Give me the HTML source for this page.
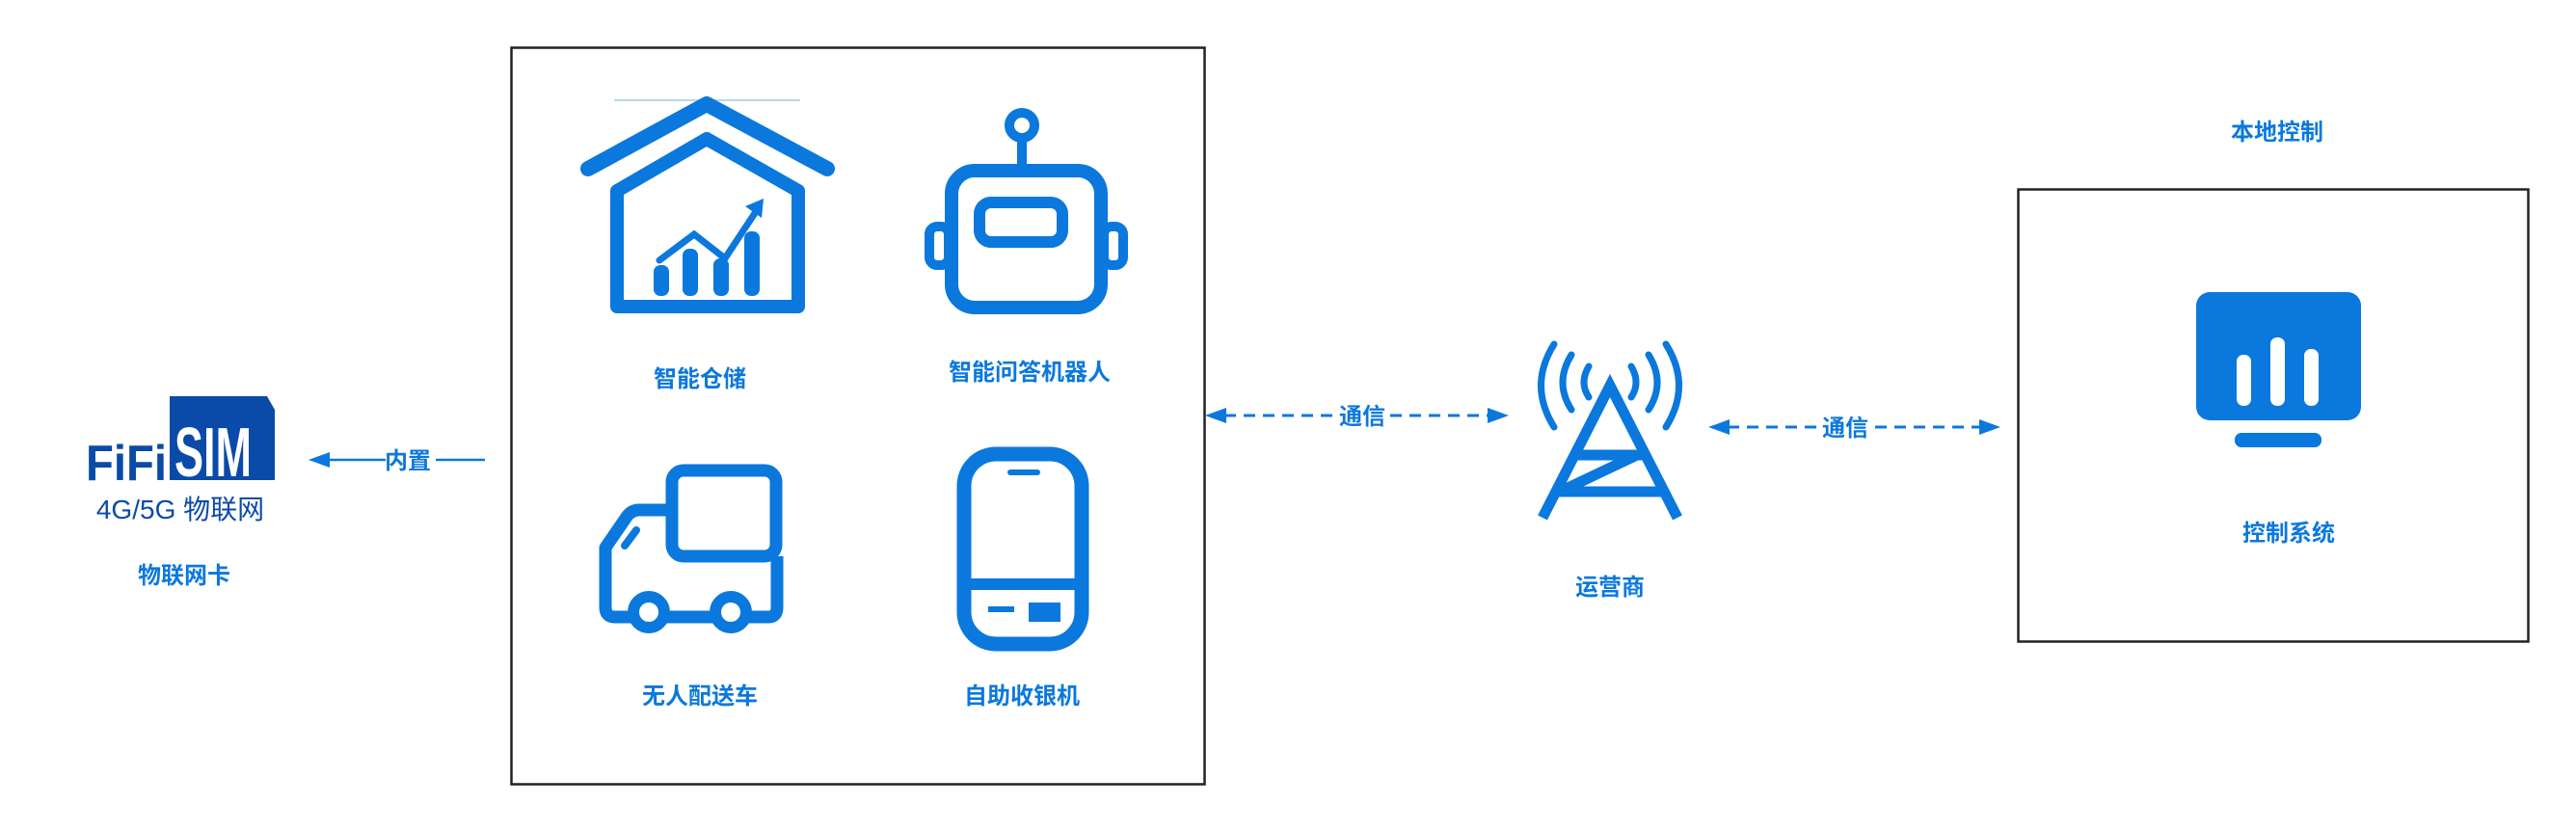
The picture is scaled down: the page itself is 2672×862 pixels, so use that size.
<!DOCTYPE html>
<html><head><meta charset="utf-8"><style>
html,body{margin:0;padding:0;background:#fff;}
svg{display:block;}
text{font-family:"Liberation Sans","Noto Sans CJK SC",sans-serif;font-weight:bold;fill:#0b78dd;}
</style></head><body>
<svg width="2672" height="862" viewBox="0 0 2672 862" xmlns="http://www.w3.org/2000/svg">
<defs>
<marker id="ah" markerWidth="10" markerHeight="10" refX="9" refY="5" orient="auto" markerUnits="userSpaceOnUse"><path d="M0,0 L10,5 L0,10 z" fill="#0b78dd"/></marker>
</defs>
<g stroke="#0b78dd" fill="none">
<!-- boxes -->
<rect x="530.5" y="49.5" width="719" height="764" stroke="#222" stroke-width="2.5"/>
<rect x="2093.5" y="196.5" width="529" height="469" stroke="#222" stroke-width="2.5"/>

<!-- house -->
<line x1="637" y1="104" x2="830" y2="104" stroke="#b8d8f0" stroke-width="2"/>
<polyline points="610,175 733,108 858,175" stroke-width="16" stroke-linecap="round" stroke-linejoin="round"/>
<path d="M640,318 L640,198 L733,144 L828,198 L828,318 Z" stroke-width="14" stroke-linejoin="round"/>
<polyline points="684,270 720,243 752,268 785,218" stroke-width="7" stroke-linecap="round"/>
</g>
<g fill="#0b78dd">
<path d="M792,206 L773,214 L790,226 Z"/>
<rect x="678" y="275" width="16" height="32" rx="7"/>
<rect x="708" y="258" width="16" height="49" rx="7"/>
<rect x="740" y="268" width="16" height="39" rx="7"/>
<rect x="772" y="240" width="16" height="67" rx="7"/>
</g>
<g stroke="#0b78dd" fill="none">
<!-- robot -->
<circle cx="1060" cy="130" r="13" stroke-width="10"/>
<line x1="1060" y1="143" x2="1060" y2="176" stroke-width="10"/>
<rect x="987" y="177" width="155" height="142" rx="24" stroke-width="14"/>
<rect x="1016" y="210" width="86" height="41" rx="12" stroke-width="12"/>
<rect x="964" y="235" width="20" height="40" rx="8" stroke-width="10"/>
<rect x="1145" y="235" width="20" height="40" rx="8" stroke-width="10"/>
<!-- truck -->
<rect x="697" y="488" width="108" height="89" rx="12" stroke-width="13"/>
<path d="M697,529 L663,529 Q655,529 650,536 L628,568 L628,630 Q628,640 638,640 L797,640 Q806,640 806,630 L806,577" stroke-width="13" stroke-linejoin="round"/>
<line x1="648" y1="566" x2="660" y2="550" stroke-width="8" stroke-linecap="round"/>
<circle cx="673" cy="635" r="16" fill="#fff" stroke-width="12"/>
<circle cx="758" cy="635" r="16" fill="#fff" stroke-width="12"/>
<!-- phone -->
<rect x="1000" y="471" width="122" height="197" rx="33" stroke-width="15"/>
<line x1="1000" y1="606" x2="1122" y2="606" stroke-width="12"/>
<line x1="1048" y1="490" x2="1076" y2="490" stroke-width="6" stroke-linecap="round"/>
<line x1="1025" y1="632" x2="1052" y2="632" stroke-width="6"/>
</g>
<rect x="1067" y="625" width="33" height="20" fill="#0b78dd"/>

<!-- SIM logo -->
<g fill="#0a4aa8">
<path d="M176,411 L277,411 L285,425 L285,498 L176,498 Z"/>
<text x="89" y="498" font-size="52" style="fill:#0a4aa8;font-family:'Liberation Sans Narrow','Liberation Sans',sans-serif" textLength="84" lengthAdjust="spacingAndGlyphs">FiFi</text>
<text x="181" y="494" font-size="72" style="fill:#fff;font-family:'Liberation Sans Narrow','Liberation Sans',sans-serif" textLength="80" lengthAdjust="spacingAndGlyphs">SIM</text>
</g>
<text x="187" y="538" font-size="28" text-anchor="middle" style="fill:#0a4aa8;font-weight:normal">4G/5G 物联网</text>
<text x="191" y="605" font-size="24" text-anchor="middle">物联网卡</text>

<!-- 内置 arrow -->
<g stroke="#0b78dd" stroke-width="2.5" fill="none">
<line x1="400" y1="477" x2="334" y2="477"/>
<line x1="452" y1="477" x2="503" y2="477"/>
</g>
<path d="M320,477 L342,469 L342,485 Z" fill="#0b78dd"/>
<text x="423" y="486" font-size="24" text-anchor="middle">内置</text>

<!-- arrow 1 -->
<g stroke="#0b78dd" stroke-width="3" fill="none" stroke-dasharray="12,8">
<line x1="1270" y1="431" x2="1385" y2="431"/>
<line x1="1442" y1="431" x2="1545" y2="431"/>
</g>
<path d="M1250,431 L1272,423 L1272,439 Z" fill="#0b78dd"/>
<path d="M1565,431 L1543,423 L1543,439 Z" fill="#0b78dd"/>
<text x="1413" y="440" font-size="24" text-anchor="middle">通信</text>

<!-- tower -->
<g stroke="#0b78dd" stroke-width="11" fill="none">
<polyline points="1600,537 1670,400 1740,537"/>
<line x1="1632" y1="472" x2="1708" y2="472"/>
<line x1="1614" y1="510" x2="1726" y2="510"/>
<line x1="1618" y1="510" x2="1698" y2="472"/>
</g>
<g stroke="#0b78dd" stroke-width="7" fill="none" stroke-linecap="round">
<path d="M1612,357 Q1585,400 1612,443"/>
<path d="M1630,368 Q1612,397 1630,425"/>
<path d="M1648,380 Q1638,397 1648,412"/>
<path d="M1728,357 Q1755,400 1728,443"/>
<path d="M1710,368 Q1728,397 1710,425"/>
<path d="M1692,380 Q1702,397 1692,412"/>
</g>
<text x="1670" y="617" font-size="24" text-anchor="middle">运营商</text>

<!-- arrow 2 -->
<g stroke="#0b78dd" stroke-width="3" fill="none" stroke-dasharray="12,8">
<line x1="1792" y1="443" x2="1885" y2="443"/>
<line x1="1945" y1="443" x2="2055" y2="443"/>
</g>
<path d="M1772,443 L1794,435 L1794,451 Z" fill="#0b78dd"/>
<path d="M2075,443 L2053,435 L2053,451 Z" fill="#0b78dd"/>
<text x="1914" y="452" font-size="24" text-anchor="middle">通信</text>

<!-- local control -->
<text x="2362" y="145" font-size="24" text-anchor="middle">本地控制</text>
<rect x="2278" y="303" width="171" height="133" rx="14" fill="#0b78dd"/>
<g fill="#fff">
<rect x="2320" y="368" width="15" height="53" rx="7"/>
<rect x="2355" y="350" width="15" height="71" rx="7"/>
<rect x="2390" y="362" width="15" height="59" rx="7"/>
</g>
<rect x="2318" y="449" width="90" height="15" rx="7" fill="#0b78dd"/>
<text x="2374" y="561" font-size="24" text-anchor="middle">控制系统</text>

<!-- labels -->
<text x="726" y="401" font-size="24" text-anchor="middle">智能仓储</text>
<text x="1068" y="394" font-size="24" text-anchor="middle">智能问答机器人</text>
<text x="726" y="730" font-size="24" text-anchor="middle">无人配送车</text>
<text x="1060" y="730" font-size="24" text-anchor="middle">自助收银机</text>
</svg>
</body></html>
